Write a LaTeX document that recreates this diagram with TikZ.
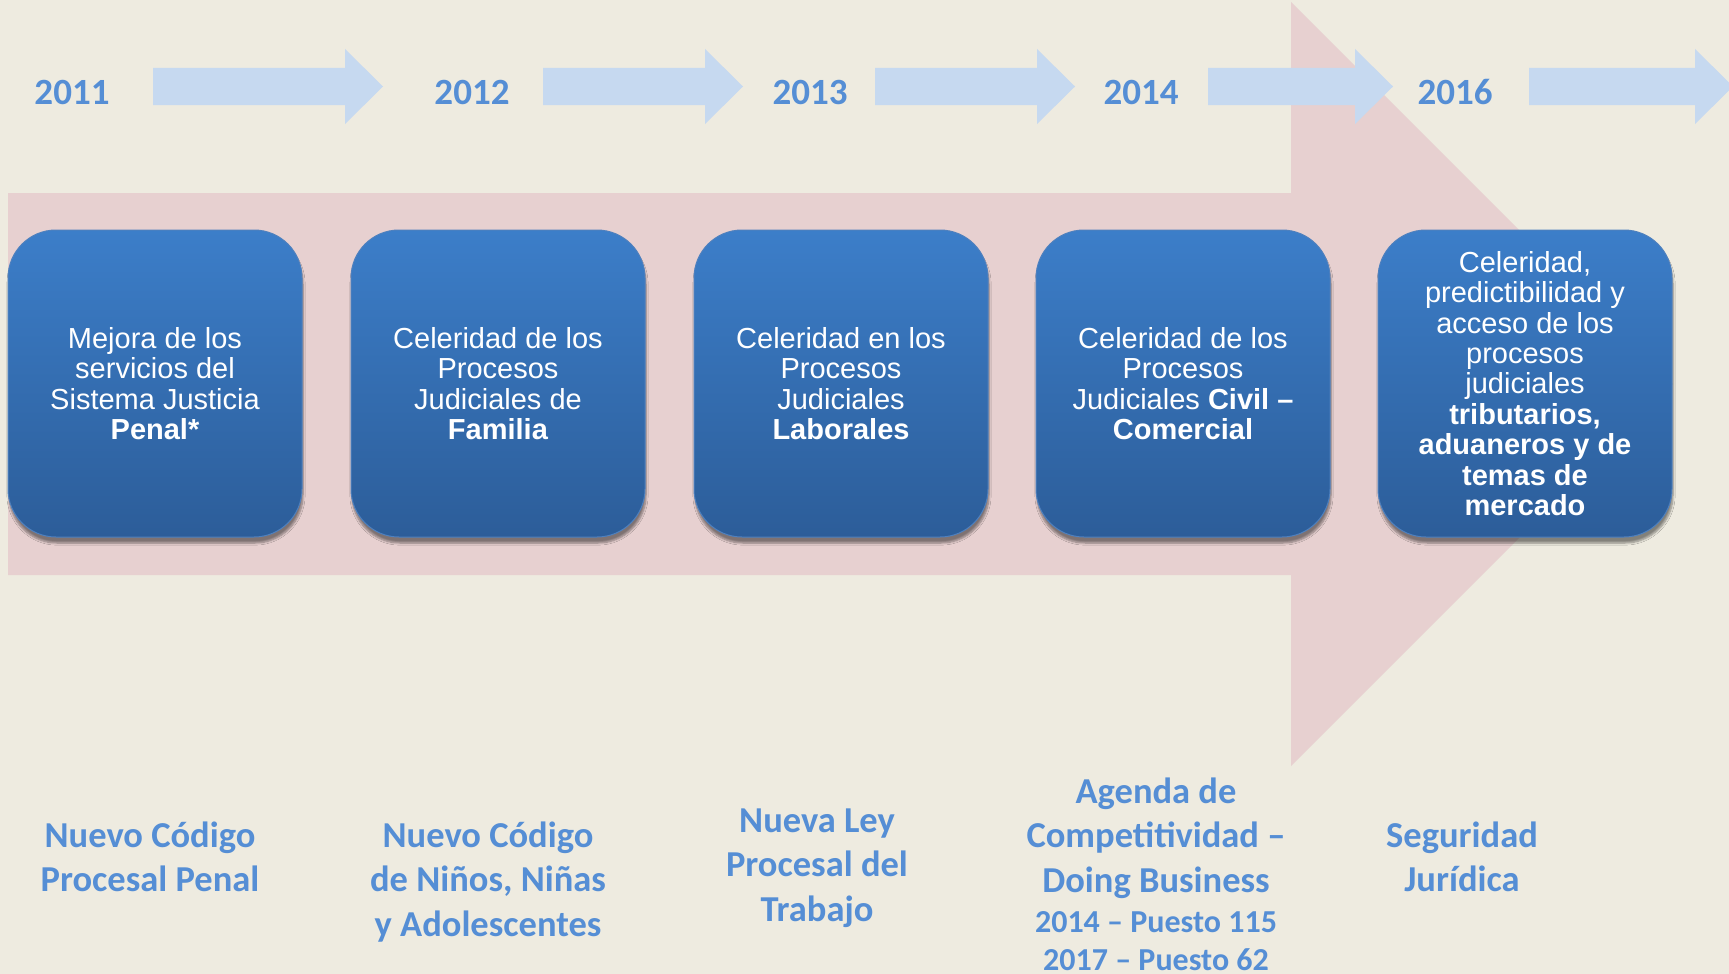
\documentclass[tikz,border=0pt]{standalone}
\usepackage{fontspec}
\setmainfont{Liberation Sans}
\newfontfamily\calibri{Carlito}
\usetikzlibrary{shadows.blur}
\definecolor{fondo}{RGB}{238,235,224}
\definecolor{rosa}{RGB}{231,208,208}
\definecolor{celeste}{RGB}{198,217,240}
\definecolor{azul}{RGB}{85,142,213}
\definecolor{cajaarriba}{RGB}{60,126,201}
\definecolor{cajaabajo}{RGB}{44,93,153}
\definecolor{cajaborde}{RGB}{78,128,190}

\begin{document}
\begin{tikzpicture}[x=1pt,y=-1pt,
   caja/.style={rounded corners=48pt,minimum width=294pt,minimum height=307pt,
     top color=cajaarriba,bottom color=cajaabajo,draw=cajaborde,line width=1pt,
     blur shadow={shadow xshift=1pt,shadow yshift=-6pt,shadow opacity=45,shadow blur steps=6},
     text=white,align=center,inner sep=0pt,font=\fontsize{29}{30.4}\selectfont},
   anio/.style={text=azul,inner sep=0pt,font=\calibri\bfseries\fontsize{37}{40}\selectfont},
   hito/.style={text=azul,inner sep=0pt,align=center,
     font=\calibri\bfseries\fontsize{36.5}{44.5}\selectfont},
   puesto/.style={hito,font=\calibri\bfseries\fontsize{32}{38}\selectfont}]
   \useasboundingbox (0,0) rectangle (1729,974);
   \fill[fondo] (0,0) rectangle (1729,974);
   \fill[rosa]
   (8,193) -- (1291,193) -- (1291,2) -- (1673,384) --
   (1291,766) -- (1291,575) -- (8,575) -- cycle;
   \foreach \a/\b in {153/345,543/705,875/1037,1208/1355,1529/1695}
     \fill[celeste] (\a,68) -- (\b,68) -- (\b,49) -- (\b+38,86.5) --
     (\b,124) -- (\b,105) -- (\a,105) -- cycle;

   \node[anio] (y2011) at (72,92) {2011};
   \node[anio] (y2012) at (472,92) {2012};
   \node[anio] (y2013) at (810,92) {2013};
   \node[anio] (y2014) at (1141,92) {2014};
   \node[anio] (y2016) at (1455,92) {2016};

   \node[caja] (c2011) at (155,383.5)
     {Mejora de los\\servicios del\\Sistema Justicia\\\textbf{Penal*}};
   \node[caja] (c2012) at (498,383.5)
     {Celeridad de los\\Procesos\\Judiciales de\\\textbf{Familia}};
   \node[caja] (c2013) at (841,383.5)
     {Celeridad en los\\Procesos\\Judiciales\\\textbf{Laborales}};
   \node[caja] (c2014) at (1183,383.5)
     {Celeridad de los\\Procesos\\Judiciales \textbf{Civil –}\\\textbf{Comercial}};
   \node[caja] (c2016) at (1525,383.5)
     {Celeridad,\\predictibilidad y\\acceso de los\\procesos\\judiciales\\
      \textbf{tributarios,}\\\textbf{aduaneros y de}\\\textbf{temas de}\\\textbf{mercado}};

   \node[hito] (h2011) at (150,857) {Nuevo Código\\Procesal Penal};
   \node[hito] (h2012) at (488,882) {Nuevo Código\\de Niños, Niñas\\y Adolescentes};
   \node[hito] (h2013) at (817,868) {Nueva Ley\\Procesal del\\Trabajo};
   \node[hito] (h2014) at (1156,838) {Agenda de\\Competitividad –\\Doing Business};
   \node[puesto] (p2014) at (1156,941) {2014 – Puesto 115\\2017 – Puesto 62};
   \node[hito] (h2016) at (1462,857) {Seguridad\\Jurídica};
\end{tikzpicture}
\end{document}
